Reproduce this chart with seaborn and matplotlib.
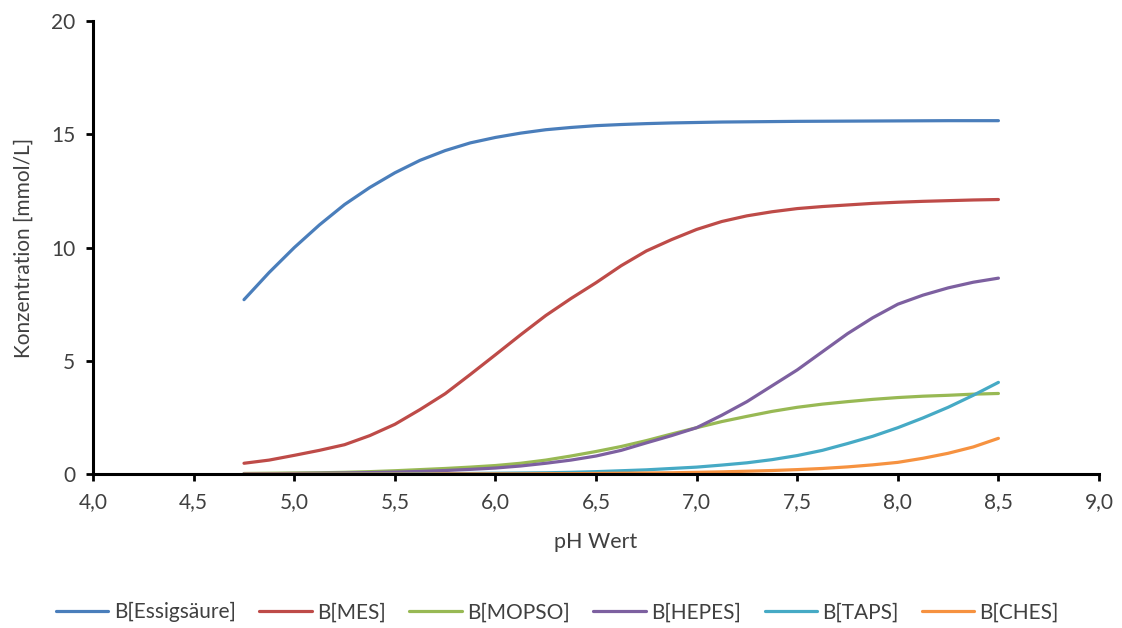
import pandas as pd
import seaborn as sns
import matplotlib.pyplot as plt
from matplotlib.ticker import FuncFormatter

sns.set_theme(style="white")
plt.rcParams["font.family"] = ["Lato", "DejaVu Sans"]

# values
ph = [4.75, 4.875, 5.0, 5.125, 5.25, 5.375, 5.5, 5.625, 5.75, 5.875, 6.0, 6.125, 6.25, 6.375,
      6.5, 6.625, 6.75, 6.875, 7.0, 7.125, 7.25, 7.375, 7.5, 7.625, 7.75, 7.875, 8.0, 8.125,
      8.25, 8.375, 8.5]
essig = [7.7, 8.9, 10.0, 11.0, 11.9, 12.65, 13.3, 13.85, 14.28, 14.62, 14.86, 15.05, 15.2, 15.3,
         15.38, 15.43, 15.47, 15.5, 15.52, 15.54, 15.55, 15.56, 15.57, 15.575, 15.58, 15.585,
         15.59, 15.595, 15.6, 15.6, 15.6]
mes = [0.48, 0.62, 0.83, 1.05, 1.3, 1.7, 2.2, 2.85, 3.55, 4.4, 5.27, 6.15, 7.0, 7.75, 8.45,
       9.2, 9.85, 10.35, 10.8, 11.15, 11.4, 11.58, 11.72, 11.81, 11.88, 11.95, 12.0, 12.04,
       12.07, 12.1, 12.12]
mopso = [0.03, 0.04, 0.05, 0.06, 0.08, 0.11, 0.15, 0.2, 0.25, 0.31, 0.38, 0.48, 0.62, 0.8, 1.0,
         1.22, 1.48, 1.77, 2.05, 2.32, 2.55, 2.77, 2.95, 3.09, 3.2, 3.3, 3.38, 3.44, 3.48, 3.53,
         3.56]
hepes = [0.02, 0.02, 0.03, 0.04, 0.05, 0.07, 0.09, 0.12, 0.16, 0.21, 0.27, 0.36, 0.48, 0.62,
         0.8, 1.05, 1.38, 1.7, 2.05, 2.6, 3.2, 3.9, 4.6, 5.4, 6.2, 6.9, 7.5, 7.9, 8.22, 8.47, 8.65]
taps = [0.0, 0.0, 0.0, 0.01, 0.01, 0.01, 0.01, 0.02, 0.02, 0.03, 0.04, 0.05, 0.06, 0.08, 0.11,
        0.15, 0.19, 0.25, 0.31, 0.4, 0.5, 0.64, 0.82, 1.05, 1.35, 1.67, 2.05, 2.48, 2.95, 3.48,
        4.05]
ches = [0.0, 0.0, 0.0, 0.0, 0.0, 0.0, 0.0, 0.0, 0.01, 0.01, 0.01, 0.01, 0.02, 0.02, 0.03, 0.04,
        0.05, 0.06, 0.08, 0.1, 0.13, 0.16, 0.2, 0.25, 0.32, 0.41, 0.52, 0.7, 0.92, 1.2, 1.58]

series = {
    "B[Essigsäure]": (essig, "#4A7EBB"),
    "B[MES]": (mes, "#BE4B48"),
    "B[MOPSO]": (mopso, "#98B954"),
    "B[HEPES]": (hepes, "#7D60A0"),
    "B[TAPS]": (taps, "#46AAC5"),
    "B[CHES]": (ches, "#F69240"),
}

fig = plt.figure(figsize=(11.22, 6.28), dpi=100)
ax = fig.add_axes([0.083, 0.245, 0.8965, 0.7216])

for name, (vals, col) in series.items():
    sns.lineplot(x=ph, y=vals, label=name, color=col, linewidth=2.3, ax=ax)

ax.set_xlim(4.0, 9.0)
ax.set_ylim(0, 20)
ax.set_xticks([4.0, 4.5, 5.0, 5.5, 6.0, 6.5, 7.0, 7.5, 8.0, 8.5, 9.0])
ax.set_yticks([0, 5, 10, 15, 20])
ax.xaxis.set_major_formatter(FuncFormatter(lambda v, p: f"{v:.1f}".replace(".", ",")))

for s in ["top", "right"]:
    ax.spines[s].set_visible(False)
for s in ["left", "bottom"]:
    ax.spines[s].set_color("black")
    ax.spines[s].set_linewidth(2.2)
ax.tick_params(axis="both", direction="out", length=5, width=2, color="black",
               labelsize=15, labelcolor="#404040", pad=8, bottom=True, left=True)

ax.set_xlabel("pH Wert", fontsize=15.5, color="#404040", labelpad=14)
ax.set_ylabel("Konzentration [mmol/L]", fontsize=15, color="#404040", labelpad=12)

handles, labels = ax.get_legend_handles_labels()
ax.get_legend().remove()
fig.legend(handles, labels, loc="center", bbox_to_anchor=(0.497, 0.025), ncol=6,
           frameon=False, fontsize=15, handlelength=2.5, columnspacing=1.15,
           handletextpad=0.25, labelcolor="#404040")

fig.savefig("out.png", dpi=100)
